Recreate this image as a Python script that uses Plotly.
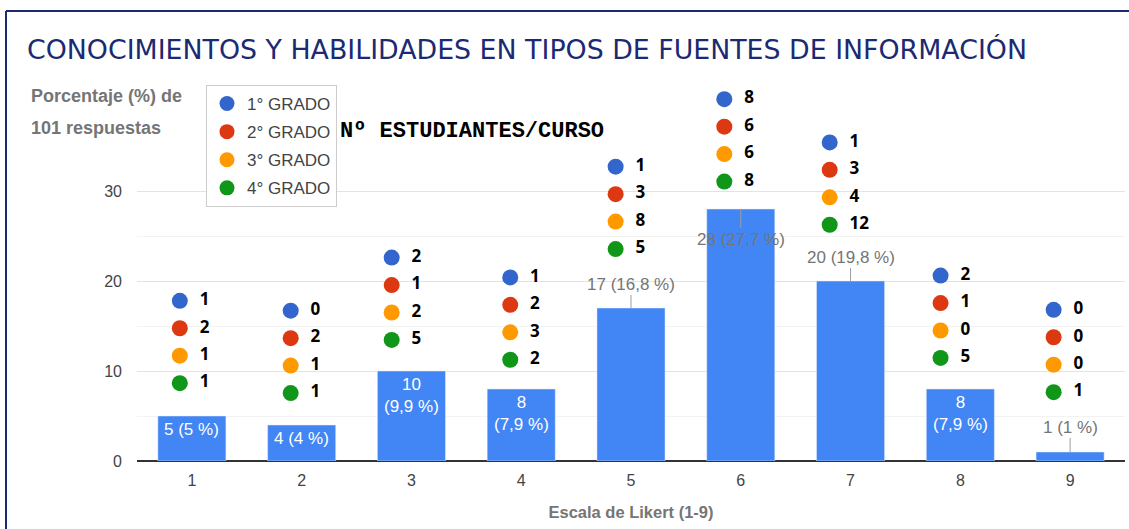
import plotly.graph_objects as go

# ---- data ----
categories = [1, 2, 3, 4, 5, 6, 7, 8, 9]
respuestas = [5, 4, 10, 8, 17, 28, 20, 8, 1]
porcentajes = ["5", "4", "9,9", "7,9", "16,8", "27,7", "19,8", "7,9", "1"]
grados = ["1° GRADO", "2° GRADO", "3° GRADO", "4° GRADO"]
grado1 = [1, 0, 2, 1, 1, 8, 1, 2, 0]
grado2 = [2, 2, 1, 2, 3, 6, 3, 1, 0]
grado3 = [1, 1, 2, 3, 8, 6, 4, 0, 0]
grado4 = [1, 1, 5, 2, 5, 8, 12, 5, 1]
y_ticks = [0, 10, 20, 30]
y_minor = [5, 15, 25]

# ---- layout constants (placement of the per-course dot annotations) ----
DOT_TOP = [17.8, 16.7, 22.6, 20.4, 32.7, 40.2, 35.4, 20.6, 16.8]
DOT_DX = [-0.11, -0.10, -0.18, -0.10, -0.14, -0.15, -0.19, -0.18, -0.15]
DOT_STEP = 3.05
LABEL_INSIDE = [True, True, True, True, False, False, False, True, False]
LABEL_AY = [0, 0, 0, 0, -24, 30, -24, 0, -25]

colors = ["#3366CC", "#DC3912", "#FF9900", "#109618"]
BAR = "#4285F4"
GREY = "#757575"
NAVY = "#1b2a72"

W, H = 1129, 529
Y_TOP = 45
ML, MR, MB = 137, 4, 68
MT = (H - MB) - Y_TOP * 9
PW, PH = W - ML - MR, H - MT - MB

def px_x(p):
    return (p - ML) / PW

def px_y(p):
    return (H - MB - p) / PH

fig = go.Figure()

fig.add_trace(go.Bar(
    x=categories, y=respuestas, marker_color=BAR, width=0.62,
    showlegend=False, hoverinfo="skip",
))

NB = "\u00a0\u00a0"
series = [grado1, grado2, grado3, grado4]
for gi, (name, vals) in enumerate(zip(grados, series)):
    xs = [c + dx for c, dx in zip(categories, DOT_DX)]
    ys = [t - gi * DOT_STEP for t in DOT_TOP]
    fig.add_trace(go.Scatter(
        x=xs, y=ys, mode="markers+text",
        marker=dict(size=16, color=colors[gi]),
        text=[NB + str(v) for v in vals], textposition="middle right",
        textfont=dict(family="Open Sans", size=17, color="#000000", weight="bold"),
        cliponaxis=False, showlegend=False, hoverinfo="skip",
    ))
    fig.add_trace(go.Scatter(
        x=[None], y=[None], mode="markers", name=name,
        marker=dict(size=15, color=colors[gi]),
        legendgroup=name, showlegend=True,
    ))

# bar value labels
for c, v, p, inside, ay in zip(categories, respuestas, porcentajes, LABEL_INSIDE, LABEL_AY):
    if inside:
        txt = f"{v} ({p} %)" if v < 8 else f"{v}<br>({p} %)"
        fig.add_annotation(x=c, y=v, text=txt, showarrow=False, yanchor="top",
                           yshift=-2, font=dict(family="Liberation Sans", size=17, color="#ffffff"))
    else:
        fig.add_annotation(x=c, y=v, text=f"{v} ({p} %)", showarrow=True, arrowhead=0,
                           arrowwidth=1, arrowcolor="#9e9e9e", ax=0, ay=ay,
                           font=dict(family="Liberation Sans", size=17, color=GREY))

# title
fig.add_annotation(xref="paper", yref="paper", x=px_x(25), y=px_y(50), xanchor="left", yanchor="middle",
                   text="CONOCIMIENTOS Y HABILIDADES EN TIPOS DE FUENTES DE INFORMACIÓN",
                   showarrow=False, font=dict(family="DejaVu Sans", size=26.8, color=NAVY))
# axis title (top-left)
fig.add_annotation(xref="paper", yref="paper", x=px_x(29), y=px_y(96), xanchor="left", yanchor="middle",
                   text="Porcentaje (%) de", showarrow=False,
                   font=dict(family="Liberation Sans", size=18, color=GREY, weight="bold"))
fig.add_annotation(xref="paper", yref="paper", x=px_x(29), y=px_y(128), xanchor="left", yanchor="middle",
                   text="101 respuestas", showarrow=False,
                   font=dict(family="Liberation Sans", size=18, color=GREY, weight="bold"))
# subtitle
fig.add_annotation(xref="paper", yref="paper", x=px_x(338), y=px_y(131), xanchor="left", yanchor="middle",
                   text="Nº ESTUDIANTES/CURSO", showarrow=False,
                   font=dict(family="Liberation Mono", size=22, color="#000000", weight="bold"))

# frame lines
fig.add_shape(type="line", xref="paper", yref="paper", x0=px_x(6), x1=px_x(W), y0=px_y(11), y1=px_y(11),
              line=dict(color=NAVY, width=2))
fig.add_shape(type="line", xref="paper", yref="paper", x0=px_x(6), x1=px_x(6), y0=px_y(11), y1=px_y(H),
              line=dict(color=NAVY, width=2))

fig.update_layout(
    width=W, height=H,
    margin=dict(l=ML, r=MR, t=MT, b=MB),
    paper_bgcolor="white", plot_bgcolor="white",
    legend=dict(x=px_x(206), y=px_y(85), xanchor="left", yanchor="top",
                bordercolor="#cccccc", borderwidth=1, bgcolor="white",
                font=dict(family="Liberation Sans", size=17, color="#444444"),
                tracegroupgap=3, itemwidth=30),
    xaxis=dict(range=[0.5, 9.5], tickvals=categories, ticktext=[str(c) for c in categories],
               showgrid=False, zeroline=False, showline=False, ticks="",
               ticklabelstandoff=8,
               tickfont=dict(family="Liberation Sans", size=16, color="#444444"),
               title=dict(text="Escala de Likert (1-9)", standoff=18,
                          font=dict(family="Liberation Sans", size=16.5, color=GREY, weight="bold"))),
    yaxis=dict(range=[0, Y_TOP], tickvals=y_ticks, showgrid=True, gridcolor="#e3e3e3",
               zeroline=True, zerolinecolor="#333333", zerolinewidth=2,
               tickfont=dict(family="Liberation Sans", size=16, color="#444444"),
               ticklabelstandoff=14,
               minor=dict(tickvals=y_minor, showgrid=True, gridcolor="#f3f3f3")),
)

fig.write_html("out.html", config={"displayModeBar": False},
               post_script="document.body.style.margin='0';document.body.style.padding='0';")
